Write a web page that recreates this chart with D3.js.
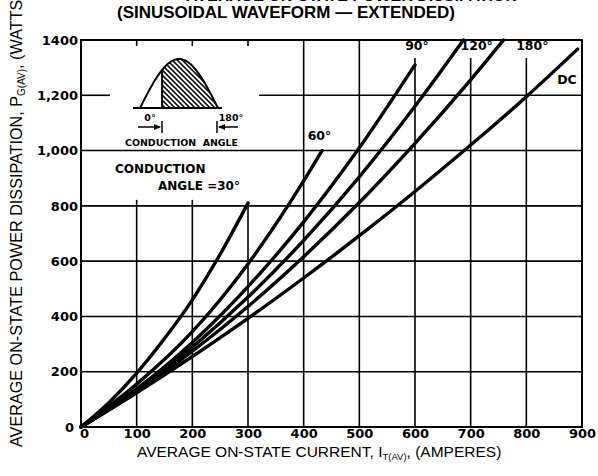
<!DOCTYPE html>
<html><head><meta charset="utf-8">
<script src="https://cdn.jsdelivr.net/npm/d3@7"></script>
<style>body{margin:0;background:#fff}svg{display:block}</style>
</head><body>
<svg id="c" width="598" height="476"></svg>
<script>
// ---- data ----
const xTickValues = [0,100,200,300,400,500,600,700,800,900];
const yTickValues = [0,200,400,600,800,1000,1200,1400];
const yTickLabels = ["0","200","400","600","800","1,000","1,200","1400"];
const xTickLabels = ["0","100","200","300","400","500","600","700","800","900"];
const i30  = [0,50,100,150,200,250,300];
const p30  = [0,88,195,320,460,625,810];
const i60  = [0,100,200,300,400,433];
const p60  = [0,155,345,590,890,1000];
const i90  = [0,100,200,300,400,500,600];
const p90  = [0,138,306,508,742,1010,1310];
const i120 = [0,100,200,300,400,500,600,687];
const p120 = [0,132,289,470,675,905,1160,1400];
const i180 = [0,100,200,300,400,500,600,700,759];
const p180 = [0,128,274,436,616,812,1026,1256,1400];
const iDC  = [0,100,200,300,400,500,600,700,800,892];
const pDC  = [0,124,255,393,539,692,852,1020,1195,1367];

const svg = d3.select("#c");
const x = d3.scaleLinear().domain([0,900]).range([81,582]);
const y = d3.scaleLinear().domain([0,1400]).range([427,40]);
const BOLD = "'DejaVu Sans', sans-serif";
const REG = "'Liberation Sans', Arial, sans-serif";

svg.append("rect").attr("width",598).attr("height",476).attr("fill","#fff");

// ---- grid ----
const g = svg.append("g").attr("stroke","#000").attr("stroke-width",1.6).attr("fill","none");
[200,400,600,800,1000].forEach(v=>{
  g.append("line").attr("x1",x(0)).attr("x2",x(900)).attr("y1",y(v)).attr("y2",y(v));
});
[[0,52],[320,900]].forEach(s=>{
  g.append("line").attr("x1",x(s[0])).attr("x2",x(s[1])).attr("y1",y(1200)).attr("y2",y(1200));
});
const vExt = {100:[0,800],200:[0,800],300:[0,800],400:[0,1400],500:[0,1400],600:[0,1335],700:[0,1335],800:[0,1335]};
Object.keys(vExt).forEach(k=>{
  const v=+k;
  g.append("line").attr("x1",x(v)).attr("x2",x(v)).attr("y1",y(vExt[k][0])).attr("y2",y(vExt[k][1]));
});
[100,200,300].forEach(v=>{
  g.append("line").attr("x1",x(v)).attr("x2",x(v)).attr("y1",y(1400)).attr("y2",y(1400)+6);
});
[100,200].forEach(v=>{
  g.append("line").attr("x1",x(v)).attr("x2",x(v)).attr("y1",y(800)).attr("y2",y(800)-6);
});
svg.append("rect").attr("x",x(0)).attr("y",y(1400)).attr("width",x(900)-x(0)).attr("height",y(0)-y(1400))
  .attr("fill","none").attr("stroke","#000").attr("stroke-width",2);

// ---- axes (labels only) ----
const xa = svg.append("g").attr("transform",`translate(0,${y(0)})`)
  .call(d3.axisBottom(x).tickValues(xTickValues).tickFormat((d,i)=>xTickLabels[i]).tickSize(0).tickPadding(2));
xa.select(".domain").remove();
xa.selectAll("text").attr("font-family",BOLD).attr("font-weight","bold").attr("font-size",13).attr("fill","#000");
xa.selectAll(".tick").filter(d=>d===0).select("text").attr("dx",3);
const ya = svg.append("g").attr("transform",`translate(${x(0)},0)`)
  .call(d3.axisLeft(y).tickValues(yTickValues).tickFormat((d,i)=>yTickLabels[i]).tickSize(0).tickPadding(3));
ya.select(".domain").remove();
ya.selectAll("text").attr("font-family",BOLD).attr("font-weight","bold").attr("font-size",13).attr("fill","#000");
ya.selectAll(".tick").filter(d=>d===0).select("text").attr("dx",-4);

// ---- curves ----
const line = d3.line().x(d=>x(d[0])).y(d=>y(d[1])).curve(d3.curveMonotoneX);
const series = [[i30,p30],[i60,p60],[i90,p90],[i120,p120],[i180,p180],[iDC,pDC]];
series.forEach(s=>{
  svg.append("path").datum(d3.zip(s[0],s[1])).attr("d",line)
    .attr("fill","none").attr("stroke","#000").attr("stroke-width",3.4).attr("stroke-linecap","round");
});

// ---- labels ----
function txt(t,px,py,size,anchor,fam,weight){
  return svg.append("text").attr("x",px).attr("y",py).attr("font-size",size).attr("font-family",fam||BOLD)
    .attr("font-weight",weight||"bold").attr("text-anchor",anchor||"start").attr("fill","#000").text(t);
}
txt("90°",x(600)+2,50,12.5,"middle");
txt("120°",x(700)+6,50,12.5,"middle");
txt("180°",x(800)+6,50,12.5,"middle");
txt("DC",567,84,12.5,"middle");
txt("60°",x(400)+4,140,12.5,"start");
txt("CONDUCTION",115,173,12,"start");
txt("ANGLE =30°",158,190,12,"start");

// ---- inset ----
const ins = svg.append("g");
const ax = d3.scaleLinear().domain([0,180]).range([140,218]);
const base = 108, amp = 49;
const sinPts = d3.range(0,181,3).map(a=>[ax(a), base-amp*Math.sin(a*Math.PI/180)]);
ins.append("line").attr("x1",133).attr("x2",222).attr("y1",base).attr("y2",base).attr("stroke","#000").attr("stroke-width",2);
const cut = 51;
const hatchArea = [[ax(cut),base]].concat(sinPts.filter(p=>p[0]>=ax(cut))).concat([[ax(180),base]]);
svg.append("defs").append("clipPath").attr("id","hc").append("path").attr("d",d3.line()(hatchArea)+"Z");
const hg = ins.append("g").attr("clip-path","url(#hc)");
for(let k=-80;k<120;k+=5){
  hg.append("line").attr("x1",ax(cut)+k).attr("y1",55).attr("x2",ax(cut)+k+55).attr("y2",110)
    .attr("stroke","#000").attr("stroke-width",1.5);
}
ins.append("path").attr("d",d3.line()(sinPts)).attr("fill","none").attr("stroke","#000").attr("stroke-width",2);
ins.append("line").attr("x1",ax(cut)).attr("x2",ax(cut)).attr("y1",base).attr("y2",base-amp*Math.sin(cut*Math.PI/180))
  .attr("stroke","#000").attr("stroke-width",2);
txt("0°",150,121,9.5,"middle");
txt("180°",231,121,9.5,"middle");
const ag = ins.append("g").attr("stroke","#000").attr("stroke-width",1.5);
ag.append("line").attr("x1",138).attr("x2",160).attr("y1",127).attr("y2",127);
ag.append("line").attr("x1",162).attr("x2",162).attr("y1",121).attr("y2",133);
ag.append("line").attr("x1",217).attr("x2",217).attr("y1",121).attr("y2",133);
ag.append("line").attr("x1",219).attr("x2",238).attr("y1",127).attr("y2",127);
ins.append("path").attr("d","M161,127 L154,124 L154,130 Z").attr("fill","#000");
ins.append("path").attr("d","M218,127 L225,124 L225,130 Z").attr("fill","#000");
txt("CONDUCTION  ANGLE",125,146,8,"start").attr("textLength",113).attr("lengthAdjust","spacingAndGlyphs").style("white-space","pre");

// ---- titles ----
txt("AVERAGE ON-STATE POWER DISSIPATION",517,1,16,"end",REG,"bold");
txt("(SINUSOIDAL WAVEFORM — EXTENDED)",117,18,17,"start",REG,"bold").attr("textLength",338).attr("lengthAdjust","spacingAndGlyphs");

const xt = svg.append("text").attr("x",137).attr("y",457).attr("font-family",REG).attr("font-size",15.5).attr("fill","#000");
xt.append("tspan").text("AVERAGE ON-STATE CURRENT, I");
xt.append("tspan").attr("font-size",9.5).attr("dy",3).text("T(AV)");
xt.append("tspan").attr("dy",-3).text(", (AMPERES)");

const yt = svg.append("text").attr("transform","translate(22,447) rotate(-90)").attr("font-family",REG).attr("font-size",16.2).attr("fill","#000");
yt.append("tspan").text("AVERAGE ON-STATE POWER DISSIPATION, P");
yt.append("tspan").attr("font-size",10).attr("dy",3).text("G(AV)");
yt.append("tspan").attr("dy",-3).text(", (WATTS)");
</script>
</body></html>
